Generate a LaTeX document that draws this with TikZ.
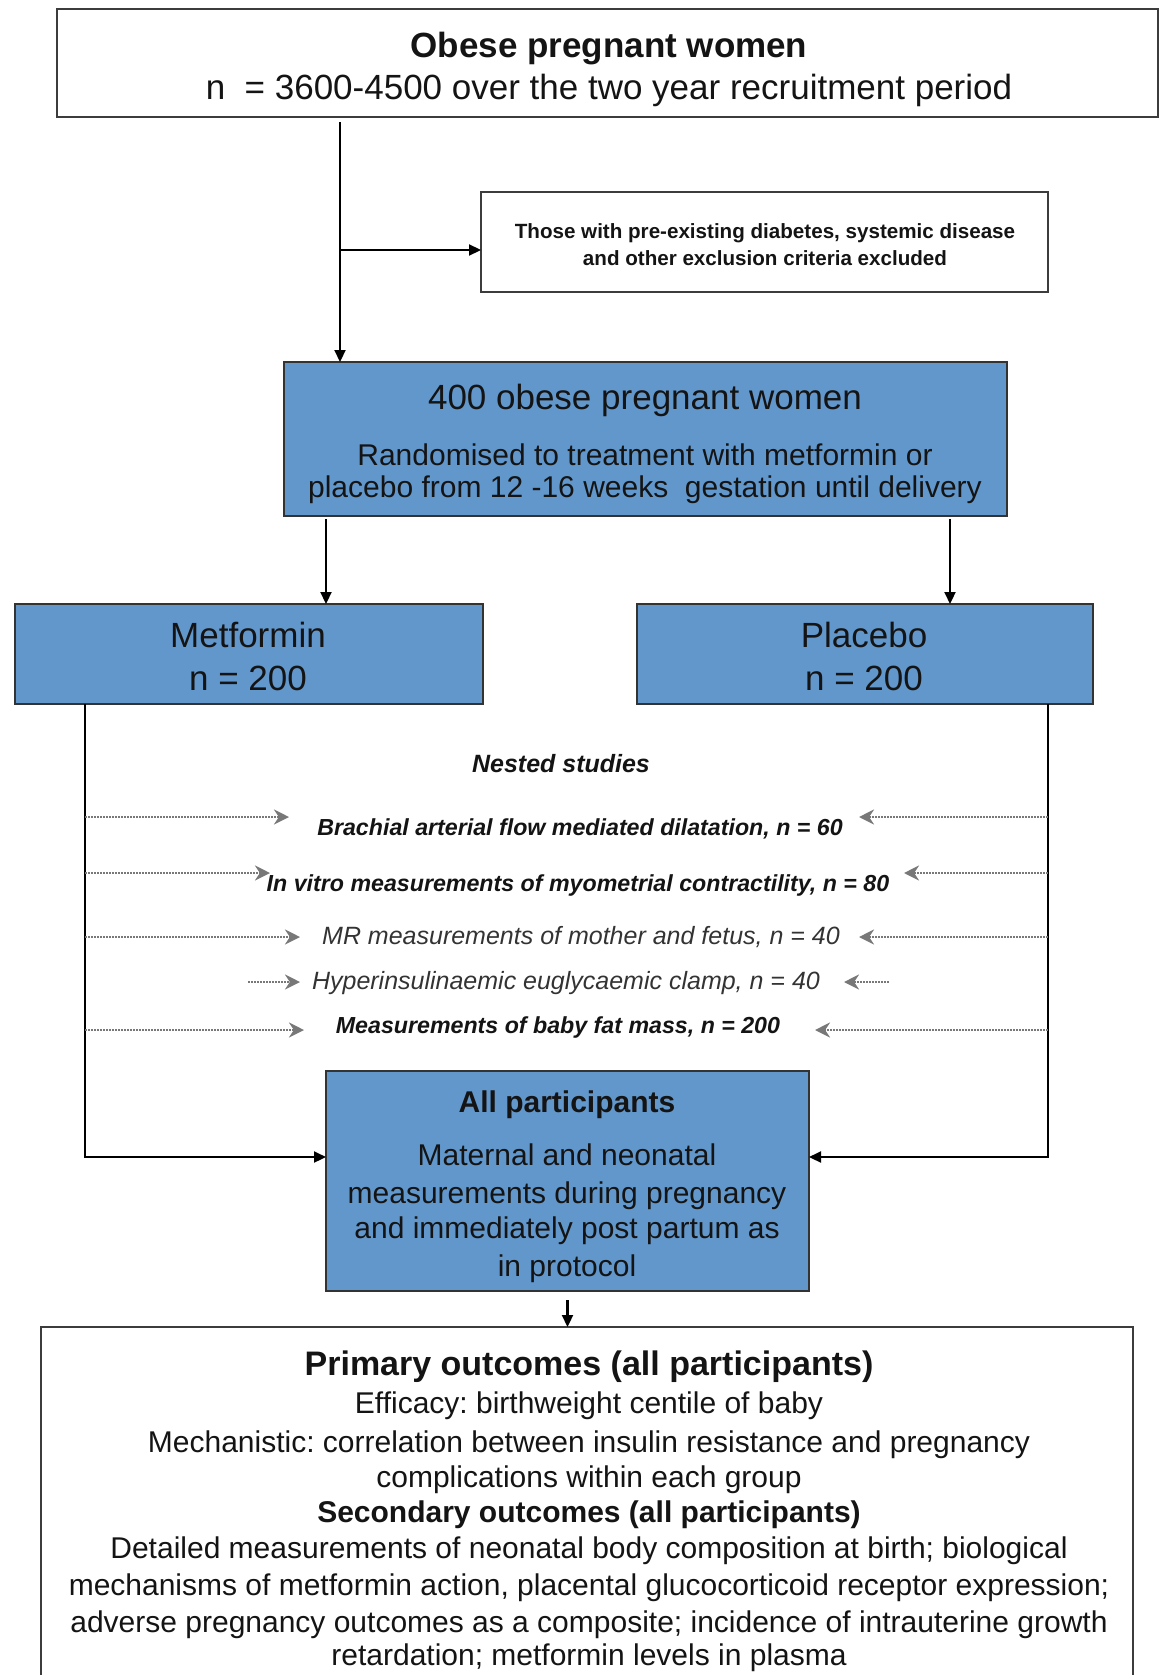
\documentclass[tikz,border=0pt]{standalone}
\usepackage{fontspec}
\setmainfont{Liberation Sans}
\usetikzlibrary{arrows.meta}
\definecolor{boxblue}{RGB}{98,151,204}
\definecolor{boxline}{RGB}{60,60,60}
\definecolor{nestgray}{RGB}{120,120,120}
\definecolor{txt}{RGB}{20,20,20}
\begin{document}
\frenchspacing
\begin{tikzpicture}[x=0.5pt,y=-0.5pt,
  wbox/.style={draw=boxline, line width=1.1pt, fill=white, inner sep=0pt, outer sep=0pt, anchor=north west},
  bbox/.style={draw=black!80, line width=1.1pt, fill=boxblue, inner sep=0pt, outer sep=0pt, anchor=north west},
  conn/.style={draw=black, line width=1.1pt, -{Triangle[length=6pt,width=5.5pt]}},
  nest/.style={draw=nestgray, line width=1.3pt, dash pattern=on 1pt off 0.5pt, -{Stealth[length=7.5pt,width=7.5pt]}},
  lbl/.style={inner sep=0pt, outer sep=0pt, text depth=0pt, text=txt},
  tA/.style={lbl, text height=12.5pt, font=\fontsize{17.5}{21}\selectfont},
  tAb/.style={lbl, text height=12.5pt, font=\fontsize{17.5}{21}\selectfont\bfseries},
  tPb/.style={lbl, text height=12.2pt, font=\fontsize{17}{20}\selectfont\bfseries},
  tB/.style={lbl, text height=10.7pt, font=\fontsize{15}{18}\selectfont},
  tBb/.style={lbl, text height=10.7pt, font=\fontsize{15}{18}\selectfont\bfseries},
  tC/.style={lbl, text height=7.4pt, font=\fontsize{10.3}{13}\selectfont\bfseries},
  tNt/.style={lbl, text height=9pt, font=\fontsize{12.5}{15}\selectfont\bfseries\itshape},
  tNb/.style={lbl, text height=8.3pt, font=\fontsize{11.6}{14}\selectfont\bfseries\itshape},
  tNr/.style={lbl, text height=9pt, text=black!80, font=\fontsize{12.5}{15}\selectfont\itshape}
]
\useasboundingbox (0,0) rectangle (1161,1675);

% ---------- boxes ----------
\node[wbox, minimum width=550.5pt, minimum height=54pt] (top) at (57,9) {};
\node[wbox, minimum width=283.5pt, minimum height=50pt] (excl) at (481,192) {};
\node[bbox, minimum width=361.5pt, minimum height=77pt] (rand) at (284,362) {};
\node[bbox, minimum width=234pt, minimum height=50pt] (met) at (15,604) {};
\node[bbox, minimum width=228pt, minimum height=50pt] (plac) at (637,604) {};
\node[bbox, minimum width=241.5pt, minimum height=110pt] (allp) at (326,1071) {};
\node[wbox, minimum width=546pt, minimum height=190pt] (prim) at (41,1327) {};

% ---------- texts ----------
\node[tAb] (top1) at (609,45) {Obese pregnant women};
\node[tA]  (top2) at (609,87) {n \ = 3600-4500 over the two year recruitment period};

\node[tC] (ex1) at (765,231) {Those with pre-existing diabetes, systemic disease};
\node[tC] (ex2) at (765,258) {and other exclusion criteria excluded};

\node[tA] (ra1) at (645,397) {400 obese pregnant women};
\node[tB] (ra2) at (645,455) {Randomised to treatment with metformin or};
\node[tB] (ra3) at (645,487) {placebo from 12 -16 weeks \ gestation until delivery};

\node[tA] (me1) at (248,635) {Metformin};
\node[tA] (me2) at (248,678) {n = 200};
\node[tA] (pl1) at (864,635) {Placebo};
\node[tA] (pl2) at (864,678) {n = 200};

\node[tNt] (nt) at (561,763) {Nested studies};
\node[tNb] (n1) at (580,827) {Brachial arterial flow mediated dilatation, n = 60};
\node[tNb] (n2) at (578,883) {In vitro measurements of myometrial contractility, n = 80};
\node[tNr] (n3) at (581,935) {MR measurements of mother and fetus, n = 40};
\node[tNr] (n4) at (566,980) {Hyperinsulinaemic euglycaemic clamp, n = 40};
\node[tNb] (n5) at (558,1025) {Measurements of baby fat mass, n = 200};

\node[tBb] (al1) at (567,1102) {All participants};
\node[tB] (al2) at (567,1155) {Maternal and neonatal};
\node[tB] (al3) at (567,1193) {measurements during pregnancy};
\node[tB] (al4) at (567,1228) {and immediately post partum as};
\node[tB] (al5) at (567,1266) {in protocol};

\node[tPb] (pr1) at (589,1363) {Primary outcomes (all participants)};
\node[tB]  (pr2) at (589,1403) {Efficacy: birthweight centile of baby};
\node[tB]  (pr3) at (589,1442) {Mechanistic: correlation between insulin resistance and pregnancy};
\node[tB]  (pr4) at (589,1477) {complications within each group};
\node[tBb] (pr5) at (589,1512) {Secondary outcomes (all participants)};
\node[tB]  (pr6) at (589,1548) {Detailed measurements of neonatal body composition at birth; biological};
\node[tB]  (pr7) at (589,1585) {mechanisms of metformin action, placental glucocorticoid receptor expression;};
\node[tB]  (pr8) at (589,1622) {adverse pregnancy outcomes as a composite; incidence of intrauterine growth};
\node[tB]  (pr9) at (589,1655) {retardation; metformin levels in plasma};

% ---------- connectors ----------
\coordinate (c1) at (340,250);
\draw[conn, shorten <=2.5pt] (top.south -| c1) -- (rand.north -| c1);
\draw[conn] (c1) -- (c1 -| excl.west);

\coordinate (c2) at (326,0);
\coordinate (c3) at (950,0);
\draw[conn, shorten <=1.5pt] (rand.south -| c2) -- (met.north -| c2);
\draw[conn, shorten <=1.5pt] (rand.south -| c3) -- (plac.north -| c3);

\coordinate (lx) at (85,1157);
\coordinate (rx) at (1048,1157);
\draw[conn] (met.south -| lx) -- (lx) -- (lx -| allp.west);
\draw[conn] (plac.south -| rx) -- (rx) -- (rx -| allp.east);

\draw[conn, shorten <=4.5pt] (allp.south) -- (allp.south |- prim.north);

% ---------- nested study arrows ----------
\coordinate (n1l) at (289,817);  \coordinate (n1r) at (859,817);
\coordinate (n2l) at (270,873);  \coordinate (n2r) at (904,873);
\coordinate (n3l) at (300,937);  \coordinate (n3r) at (859,937);
\coordinate (n4s) at (248,982);  \coordinate (n4l) at (300,982);
\coordinate (n4t) at (889,982);  \coordinate (n4r) at (844,982);
\coordinate (n5l) at (304,1030); \coordinate (n5r) at (815,1030);
\draw[nest] (lx |- n1l) -- (n1l);
\draw[nest] (rx |- n1r) -- (n1r);
\draw[nest] (lx |- n2l) -- (n2l);
\draw[nest] (rx |- n2r) -- (n2r);
\draw[nest] (lx |- n3l) -- (n3l);
\draw[nest] (rx |- n3r) -- (n3r);
\draw[nest] (n4s) -- (n4l);
\draw[nest] (n4t) -- (n4r);
\draw[nest] (lx |- n5l) -- (n5l);
\draw[nest] (rx |- n5r) -- (n5r);
\end{tikzpicture}
\end{document}
